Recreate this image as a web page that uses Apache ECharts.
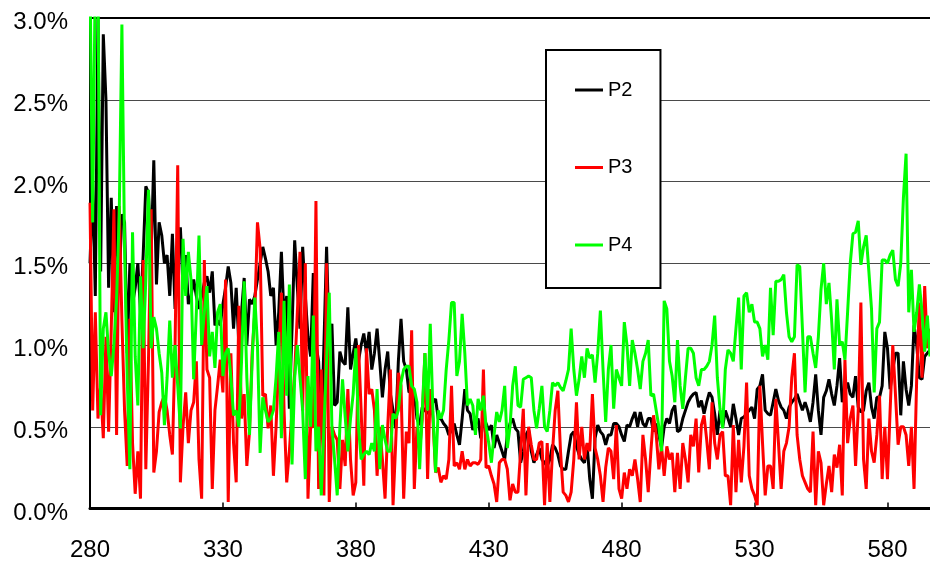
<!DOCTYPE html>
<html>
<head>
<meta charset="utf-8">
<script src="https://cdn.jsdelivr.net/npm/echarts@6/dist/echarts.min.js"></script>
<style>
html,body{margin:0;padding:0;background:#fff;}
#chart{width:930px;height:564px;}
</style>
</head>
<body>
<div id="chart"></div>
<script>
// x values start at 280 with a step of 1 (one value per unit)
const X_START = 280;
const X_TICKS = [280, 330, 380, 430, 480, 530, 580];
const Y_MIN = 0, Y_MAX = 3, Y_STEP = 0.5;

const P2 = [
1.5,2.0,1.3,3.0,1.45,2.9,2.5,1.35,1.9,1.2,
1.85,1.4,1.8,1.75,0.95,1.5,1.25,1.35,1.5,1.2,
1.55,1.97,1.93,1.55,2.13,1.37,1.75,1.67,1.5,1.55,
1.3,1.68,1.22,1.5,1.72,1.35,1.55,1.25,1.3,
1.4,1.3,1.22,1.3,1.38,1.42,1.32,1.45,1.12,1.15,
1.12,1.25,1.35,1.48,1.38,1.1,1.35,1.0,1.2,1.41,
1.0,1.28,1.25,1.3,1.4,1.5,1.6,1.53,1.45,1.3,
1.35,1.0,1.2,1.57,1.16,1.3,0.61,1.1,1.64,
1.35,1.1,1.6,1.3,1.05,0.93,1.44,1.0,0.9,0.47,
1.0,1.6,1.0,1.13,0.63,0.65,0.96,0.9,0.88,1.23,
0.85,0.95,1.04,0.9,1.0,1.07,0.95,1.08,0.85,0.95,
1.1,0.9,0.68,0.85,0.96,0.7,0.6,0.49,0.9,
1.16,0.9,0.85,0.71,0.72,0.7,0.55,0.51,0.62,0.6,
0.58,0.6,0.65,0.67,0.55,0.55,0.52,0.5,0.45,0.48,
0.52,0.45,0.39,0.55,0.73,0.6,0.58,0.48,0.52,0.55,
0.43,0.55,0.52,0.48,0.51,0.37,0.45,0.4,0.35,
0.3,0.45,0.52,0.55,0.49,0.47,0.28,0.35,0.45,0.48,
0.35,0.28,0.33,0.37,0.3,0.28,0.26,0.3,0.39,0.37,
0.33,0.26,0.24,0.24,0.35,0.45,0.47,0.38,0.33,
0.3,0.28,0.39,0.18,0.06,0.43,0.51,0.47,0.45,0.39,
0.45,0.45,0.52,0.52,0.5,0.45,0.41,0.51,0.5,0.55,
0.59,0.5,0.59,0.52,0.5,0.55,0.55,0.47,0.52,0.45,
0.37,0.5,0.55,0.52,0.6,0.63,0.47,0.48,0.55,
0.6,0.65,0.68,0.7,0.71,0.62,0.66,0.58,0.65,0.71,
0.68,0.58,0.45,0.6,0.5,0.6,0.55,0.5,0.64,0.55,
0.45,0.55,0.56,0.58,0.6,0.62,0.55,0.73,0.75,0.82,
0.6,0.58,0.57,0.65,0.73,0.66,0.62,0.6,0.55,
0.62,0.65,0.67,0.7,0.65,0.6,0.65,0.6,0.53,0.65,
0.82,0.6,0.45,0.68,0.72,0.79,0.7,0.63,0.75,0.92,
0.65,0.72,0.77,0.7,0.68,0.81,0.62,0.59,0.6,0.72,
0.77,0.62,0.55,0.68,0.68,0.75,1.08,0.98,0.73,
0.85,0.95,0.95,0.57,0.9,0.73,0.63,0.75,1.12,1.0,
0.8,0.79,0.93,0.95,0.97
];

const P3 = [
1.87,0.6,1.2,0.55,0.75,0.43,1.05,0.47,1.1,1.83,
0.45,1.85,1.15,0.6,0.26,1.16,0.4,0.09,0.35,0.06,
1.52,0.24,0.91,1.83,0.22,0.35,0.59,0.65,0.69,0.6,
0.45,0.33,1.0,2.1,0.16,0.5,0.71,0.4,0.6,
0.65,0.9,0.3,0.06,1.52,0.85,0.8,0.12,0.6,0.75,
0.91,0.71,1.4,0.04,0.95,0.4,0.16,1.24,0.55,0.7,
0.26,0.47,0.95,1.2,1.75,1.59,0.69,0.7,0.49,0.63,
0.2,0.5,0.9,1.32,0.6,0.16,0.35,0.6,0.83,
1.2,1.57,0.6,1.5,0.06,0.5,0.5,1.88,0.12,0.85,
0.08,1.5,0.04,0.5,0.45,0.42,0.12,0.42,0.26,0.73,
0.3,0.08,0.16,1.0,0.6,0.14,0.98,0.7,0.73,0.6,
0.2,0.5,0.3,0.06,0.5,0.85,0.02,0.4,0.83,
0.75,0.06,0.47,0.4,1.09,0.12,0.5,0.35,0.55,0.95,
0.18,0.73,0.55,0.22,0.25,0.16,0.2,0.18,0.3,0.75,
0.26,0.28,0.24,0.35,0.24,0.3,0.26,0.28,0.28,0.27,
0.3,0.85,0.25,0.26,0.2,0.15,0.04,0.28,0.3,
0.3,0.24,0.05,0.15,0.1,0.1,0.35,0.61,0.08,0.5,
0.39,0.3,0.3,0.4,0.41,0.02,0.4,0.04,0.35,0.6,
0.72,0.35,0.1,0.08,0.04,0.1,0.3,0.65,0.3,
0.5,0.3,0.4,0.35,0.7,0.37,0.3,0.2,0.04,0.25,
0.37,0.35,0.18,0.51,0.12,0.06,0.22,0.12,0.24,0.2,
0.3,0.18,0.04,0.45,0.3,0.1,0.35,0.57,0.45,0.24,
0.38,0.2,0.38,0.3,0.34,0.1,0.34,0.12,0.4,
0.3,0.16,0.45,0.38,0.55,0.22,0.51,0.57,0.42,0.24,
0.65,0.4,0.3,0.45,0.47,0.2,0.2,0.02,0.51,0.1,
0.42,0.16,0.38,0.77,0.2,0.12,0.08,0.02,0.75,0.4,
0.08,0.26,0.26,0.12,0.67,0.4,0.12,0.35,0.4,
0.5,0.8,0.95,0.45,0.3,0.2,0.16,0.12,0.1,0.47,
0.02,0.35,0.28,0.02,0.15,0.26,0.1,0.33,0.25,0.39,
0.08,0.91,0.4,0.55,0.63,0.26,0.6,1.26,0.3,0.12,
0.55,0.35,0.28,0.45,0.69,0.18,0.5,0.18,0.6,
1.0,0.7,0.39,0.5,0.5,0.45,0.26,0.5,0.12,0.8,
1.26,0.8,1.36,0.98,1.1
];

const P4 = [
3.3,1.75,3.3,3.3,0.57,1.1,1.2,0.95,0.81,1.0,
1.28,1.8,2.96,1.6,0.8,0.24,1.69,0.93,0.63,1.42,
0.98,1.4,1.95,0.98,1.17,1.1,0.95,0.83,0.51,0.8,
1.15,0.8,1.0,0.75,0.49,1.65,1.3,1.57,1.4,
0.79,1.2,1.67,1.0,1.2,1.36,0.93,1.08,0.86,1.2,
1.25,0.81,0.95,0.98,0.8,0.57,0.6,0.5,0.9,1.39,
0.8,0.45,0.9,1.29,1.0,0.34,0.68,0.6,0.53,0.55,
0.6,0.8,1.08,0.43,1.27,0.69,1.37,0.27,0.8,
1.0,0.8,0.6,0.18,0.81,0.5,1.18,0.35,0.5,0.08,
0.5,0.9,1.32,0.5,0.3,0.08,0.5,0.79,0.56,0.35,
0.55,0.7,0.98,0.5,0.3,0.33,0.35,0.33,0.4,0.35,
0.73,0.24,0.51,0.42,0.35,0.35,0.58,0.55,0.6,
0.77,0.85,0.87,0.87,0.75,0.73,0.65,0.24,0.6,0.95,
0.6,1.13,0.6,0.22,0.6,0.55,0.6,0.85,1.03,1.26,
1.26,0.81,0.9,1.19,0.95,0.63,0.67,0.63,0.45,0.67,
0.6,0.69,0.5,0.4,0.28,0.45,0.59,0.53,0.6,
0.75,0.37,0.5,0.75,0.87,0.63,0.62,0.79,0.8,0.81,
0.8,0.6,0.49,0.61,0.75,0.5,0.47,0.6,0.77,0.75,
0.77,0.74,0.72,0.78,0.85,1.1,0.85,0.69,0.79,
0.93,0.8,0.98,0.92,0.94,0.77,0.95,1.21,0.85,0.53,
0.85,1.0,0.61,0.85,0.8,0.75,1.14,1.0,0.75,1.03,
0.95,0.85,0.73,0.9,0.95,1.03,0.69,0.7,0.6,0.5,
0.35,1.27,1.22,0.9,0.81,0.65,1.03,0.75,0.61,
0.8,0.98,0.98,0.95,0.8,0.75,0.85,0.85,0.87,0.9,
1.0,1.18,0.8,0.61,0.49,0.85,0.97,0.95,0.9,1.1,
1.29,0.85,1.3,1.32,1.2,1.25,1.14,1.14,1.1,0.93,
1.0,0.91,1.35,1.06,1.39,1.39,1.4,1.43,1.2,
1.05,1.02,1.05,1.49,1.48,1.1,0.71,1.05,1.05,0.95,
0.86,1.05,1.34,1.5,1.25,1.38,1.15,0.85,1.28,1.0,
1.02,0.91,1.2,1.5,1.68,1.69,1.76,1.49,1.6,1.67,
1.45,1.22,0.71,1.1,1.14,1.52,1.52,1.5,1.55,
1.58,1.4,1.36,1.5,1.9,2.17,1.2,1.46,1.08,1.2,
1.37,1.2,0.96,1.18,0.93
];

const SERIES_NAMES = ['P2', 'P3', 'P4'];
const SERIES_COLORS = ['#000000', '#ff0000', '#00ff00'];
const SERIES_DATA = [P2, P3, P4];

const nPts = Math.max(P2.length, P3.length, P4.length);
const xCats = [];
for (let i = 0; i < nPts; i++) xCats.push(String(X_START + i));

const FONT = '"Liberation Sans", Arial, sans-serif';
const isTick = (idx, val) => X_TICKS.indexOf(Number(val)) >= 0;

const chart = echarts.init(document.getElementById('chart'), null, {renderer: 'canvas'});
chart.setOption({
  animation: false,
  backgroundColor: '#ffffff',
  grid: {left: 90, right: 0, top: 18, bottom: 55.5, containLabel: false},
  legend: {
    orient: 'vertical',
    left: 546, top: 50,
    data: SERIES_NAMES.map(n => ({name: n, icon: 'rect'})),
    backgroundColor: '#ffffff',
    borderColor: '#000000',
    borderWidth: 2,
    padding: [30, 28, 33, 29],
    itemWidth: 28,
    itemHeight: 3,
    itemGap: 57.5,
    selectedMode: false,
    textStyle: {fontFamily: FONT, fontSize: 20, color: '#000', lineHeight: 20, height: 20}
  },
  xAxis: [{
    type: 'category',
    data: xCats,
    boundaryGap: false,
    axisLine: {lineStyle: {color: '#000', width: 3}},
    axisTick: {inside: true, length: 6, interval: isTick, lineStyle: {color: '#000', width: 1.5}},
    axisLabel: {interval: isTick, margin: 30, fontFamily: FONT, fontSize: 24, color: '#000'},
    splitLine: {show: false}
  }, {
    type: 'category',
    data: xCats,
    boundaryGap: false,
    position: 'top',
    axisLine: {lineStyle: {color: '#000', width: 2}},
    axisTick: {show: false},
    axisLabel: {show: false},
    splitLine: {show: false}
  }],
  yAxis: {
    type: 'value',
    min: Y_MIN, max: Y_MAX, interval: Y_STEP,
    axisLine: {show: true, lineStyle: {color: '#000', width: 2}},
    axisTick: {show: false},
    axisLabel: {
      margin: 22, color: '#000',
      formatter: v => '{a|' + v.toFixed(1) + '%}',
      rich: {a: {fontFamily: FONT, fontSize: 24, color: '#000', padding: [9, 0, 0, 0]}}
    },
    splitLine: {show: true, lineStyle: {color: '#4a4a4a', width: 1}}
  },
  series: SERIES_DATA.map((d, i) => ({
    name: SERIES_NAMES[i],
    type: 'line',
    data: d,
    symbol: 'none',
    clip: true,
    lineStyle: {color: SERIES_COLORS[i], width: 3},
    itemStyle: {color: SERIES_COLORS[i]}
  }))
});
</script>
</body>
</html>
